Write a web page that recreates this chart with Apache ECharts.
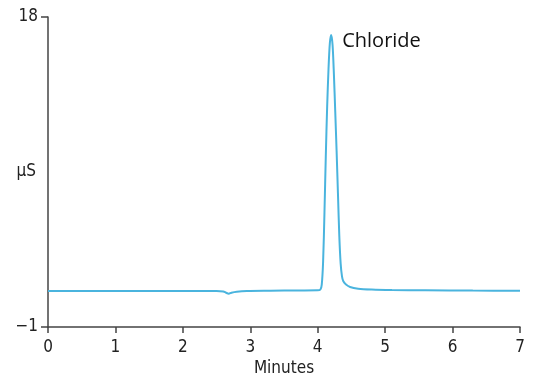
<!DOCTYPE html>
<html><head><meta charset="utf-8">
<script src="https://cdn.jsdelivr.net/npm/echarts@6/dist/echarts.min.js"></script>
<style>html,body{margin:0;padding:0;background:#fff}#c{width:540px;height:390px}</style>
</head><body><div id="c"></div>
<script>
const timeMin = [0, 1, 2, 2.5, 2.6, 2.64, 2.68, 2.72, 2.8, 2.95, 3.3, 3.7, 4.0, 4.04, 4.06, 4.08, 4.1, 4.12, 4.14, 4.16, 4.18, 4.2, 4.22, 4.24, 4.26, 4.28, 4.3, 4.32, 4.34, 4.36, 4.38, 4.42, 4.48, 4.6, 4.8, 5.1, 5.6, 6.3, 7.0];
const conductivity = [1.2, 1.2, 1.2, 1.2, 1.18, 1.1, 1.04, 1.1, 1.16, 1.2, 1.22, 1.24, 1.25, 1.3, 1.6, 3.0, 6.0, 9.5, 12.5, 14.8, 16.4, 16.9, 16.3, 14.5, 12.2, 9.8, 7.2, 4.6, 2.9, 2.1, 1.8, 1.6, 1.45, 1.35, 1.3, 1.27, 1.25, 1.23, 1.22];
const peakName = "Chloride";
const peakIndex = 21;
const xTicks = [0, 1, 2, 3, 4, 5, 6, 7];
const yTicks = [-1, 18];

const data = timeMin.map((t, i) => [t, conductivity[i]]);

const chart = echarts.init(document.getElementById('c'));
const axisFont = { fontFamily: 'DejaVu Sans Condensed, Liberation Sans Narrow, Liberation Sans', fontSize: 17, color: '#222' };
chart.setOption({
  animation: false,
  grid: { left: 48, right: 20, top: 17, bottom: 63, outerBoundsMode: 'none', containLabel: false },
  xAxis: {
    type: 'value', min: 0, max: 7, interval: 1,
    name: 'Minutes', nameLocation: 'middle', nameGap: 33, nameMoveOverlap: false,
    nameTextStyle: axisFont,
    axisLine: { onZero: false, lineStyle: { color: '#444', width: 1.5 } },
    axisTick: { show: true, length: 6, lineStyle: { color: '#444', width: 1.5 } },
    axisLabel: Object.assign({ margin: 12 }, axisFont),
    splitLine: { show: false }
  },
  yAxis: {
    type: 'value', min: -1, max: 18,
    name: 'μS', nameLocation: 'middle', nameGap: 12, nameRotate: 0, nameMoveOverlap: false,
    nameTextStyle: axisFont,
    axisLine: { show: true, onZero: false, lineStyle: { color: '#444', width: 1.5 } },
    axisTick: { show: true, length: 7, customValues: yTicks, lineStyle: { color: '#444', width: 1.5 } },
    axisLabel: Object.assign({ margin: 10, customValues: yTicks, formatter: v => v < 0 ? '\u2212' + Math.abs(v) : String(v) }, axisFont),
    splitLine: { show: false }
  },
  series: [{
    type: 'line', data: data, showSymbol: false, symbol: 'none', smooth: 0.3,
    lineStyle: { color: '#4ab4de', width: 2 },
    markPoint: {
      symbol: 'circle', symbolSize: 0, silent: true,
      data: [{ coord: data[peakIndex], name: peakName,
        label: { show: true, formatter: peakName, position: 'right', distance: 0, offset: [11, 6], fontFamily: 'Open Sans', fontSize: 20, color: '#111' } }]
    }
  }]
});
</script></body></html>
